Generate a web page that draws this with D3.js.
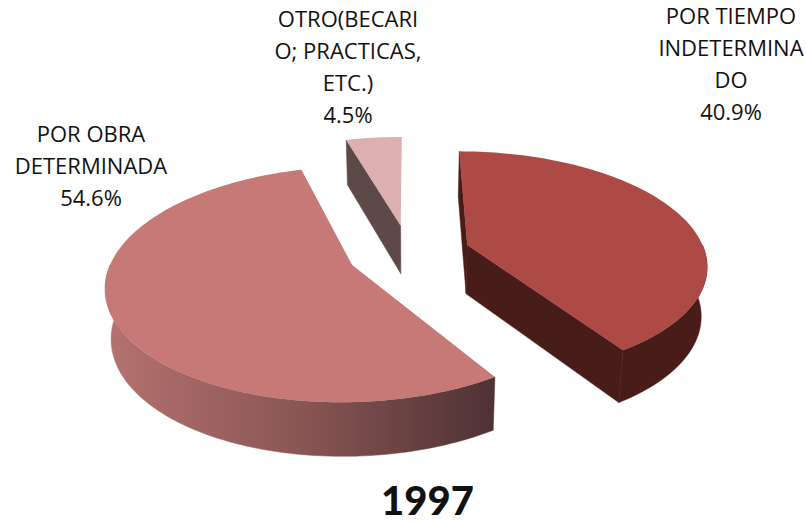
<!DOCTYPE html>
<html><head><meta charset="utf-8">
<script src="https://cdn.jsdelivr.net/npm/d3@7"></script>
<style>html,body{margin:0;padding:0;background:#fff}svg{display:block}text{font-family:"Open Sans",Lato,sans-serif;fill:#111}</style>
</head><body><svg id="c" width="806" height="523"></svg>
<script>
const categories=[["POR TIEMPO","INDETERMINA","DO"],["POR OBRA","DETERMINADA"],["OTRO(BECARI","O; PRACTICAS,","ETC.)"]];
const values=[40.9,54.6,4.5];
const labelPos=[[731,24],[91,142],[348,27]];
const topColors=["#ae4a45","#c67977","#dcb0b0"];
const wallColors=["#481c19","url(#g2)","#5c4948"];
const svg=d3.select("#c");
// projection parameters
const cx=409,cy=253,a=238,b=111,persp=0.16,expl=0.258,depth=49,baseShrink=0.02;
const grad=svg.append("defs").append("linearGradient").attr("id","g2").attr("gradientUnits","userSpaceOnUse").attr("x1",108).attr("x2",492).attr("y1",0).attr("y2",0);
grad.append("stop").attr("offset",0).attr("stop-color","#b4716f");
grad.append("stop").attr("offset",0.5).attr("stop-color","#8a5654");
grad.append("stop").attr("offset",1).attr("stop-color","#4f3235");
const pie=d3.pie().sort(null).value(d=>d);
const arcs=pie(values);
function project(u,v,z){const s=1/(1-persp*v);return [cx+a*u*s*(1-baseShrink*z),cy+b*v*s+z*depth*Math.sqrt(s)];}
const line=d3.line();
function pt(d,theta,r,z){const m=(d.startAngle+d.endAngle)/2;
  const u=expl*Math.sin(m)+r*Math.sin(theta),v=-expl*Math.cos(m)-r*Math.cos(theta);return project(u,v,z);}
function arcPts(d,z,t0,t1){const n=Math.max(2,Math.ceil(Math.abs(t1-t0)*40));return d3.range(n+1).map(i=>pt(d,t0+(t1-t0)*i/n,1,z));}
function surface(d){return line([pt(d,0,0,0),...arcPts(d,0,d.startAngle,d.endAngle)])+"Z";}
function outerWall(d){const t0=Math.max(d.startAngle,Math.PI/2),t1=Math.min(d.endAngle,Math.PI*1.5);if(t1<=t0)return null;
  return line([...arcPts(d,0,t0,t1),...arcPts(d,1,t1,t0)])+"Z";}
function cutWall(d,t){return line([pt(d,0,0,0),pt(d,t,1,0),pt(d,t,1,1),pt(d,0,0,1)])+"Z";}
const order=[2,0,1];
order.forEach(i=>{const d=arcs[i],g=svg.append("g");
  const paths=[];
  if(i===0)paths.push(cutWall(d,d.startAngle),cutWall(d,d.endAngle));
  if(i===2)paths.push(cutWall(d,d.startAngle));
  const w=outerWall(d);if(w)paths.push(w);
  paths.forEach(p=>g.append("path").attr("d",p).attr("fill",wallColors[i]).attr("stroke",wallColors[i]).attr("stroke-width",0.5));
  g.append("path").attr("d",surface(d)).attr("fill",topColors[i]);
});
categories.forEach((c,i)=>{const t=svg.append("text").attr("text-anchor","middle").attr("font-size",22);
  [...c,values[i].toFixed(1)+"%"].forEach((s,j)=>t.append("tspan").attr("x",labelPos[i][0]).attr("y",labelPos[i][1]+j*32).text(s));});
svg.append("text").attr("x",427.5).attr("y",515).attr("text-anchor","middle").attr("font-size",40).attr("font-weight",900).style("font-family","Lato").text("1997");
</script></body></html>
